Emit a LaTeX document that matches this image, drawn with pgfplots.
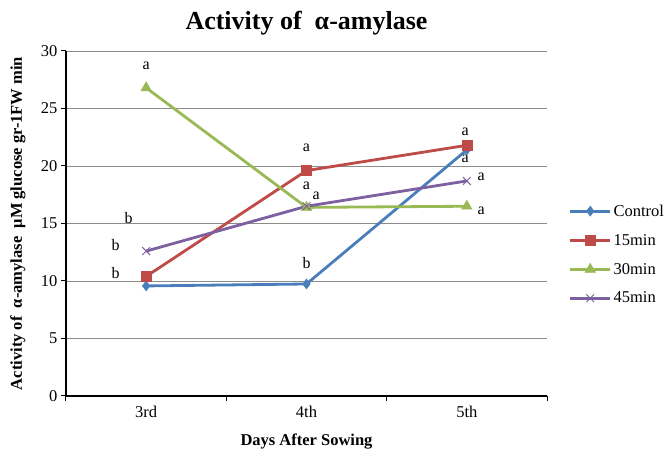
\documentclass[border=0pt]{standalone}
\usepackage{fontspec}
\setmainfont{Liberation Serif}
\usepackage{pgfplots}
\pgfplotsset{compat=1.18}
\definecolor{cCtrl}{HTML}{4A7EBB}
\definecolor{cF}{HTML}{BE4B48}
\definecolor{cT}{HTML}{98B954}
\definecolor{cFF}{HTML}{7D60A0}
\definecolor{gridc}{HTML}{8C8C8C}
\begin{document}
\begin{tikzpicture}
\useasboundingbox (-66pt,-57pt) rectangle (599pt,396pt);
\begin{axis}[
  at={(0pt,0pt)}, anchor=south west,
  scale only axis, width=481pt, height=345pt,
  xmin=-0.5, xmax=2.5, ymin=0, ymax=30,
  ytick={0,5,...,30},
  xtick={-0.5,0.5,1.5,2.5}, xticklabels={},
  extra x ticks={0,1,2}, extra x tick labels={3rd,4th,5th},
  extra x tick style={major tick length=0pt, xticklabel shift=7pt},
  axis x line*=bottom, axis y line*=left,
  axis line style={black, line width=1.3pt, -},
  tick align=outside, major tick length=5pt,
  tick style={black, line width=1pt},
  ymajorgrids, grid style={gridc, line width=0.8pt},
  /pgf/number format/assume math mode=true,
  tick label style={font=\fontsize{16.5}{19}\selectfont},
  xlabel={\textbf{Days After Sowing}},
  xlabel style={font=\fontsize{16.5}{19}\selectfont, at={(axis description cs:0.5,-0.133)}, anchor=center},
  ylabel={\textbf{Activity of~~α-amylase~~μM glucose gr-1FW min}},
  ylabel style={font=\fontsize{16.5}{19}\selectfont, at={(axis description cs:-0.0998,0.5)}, anchor=center},
  title={\textbf{Activity of~~α-amylase}},
  title style={font=\fontsize{26}{30}\selectfont, at={(axis description cs:0.5,1.064)}, anchor=center},
  legend style={at={(1.045,0.41)}, anchor=west, draw=none, fill=none,
    font=\fontsize{16.5}{19}\selectfont, row sep=12.5pt, inner xsep=0pt},
  legend cell align=left,
  legend image code/.code={\draw[mark repeat=2,mark phase=2] plot coordinates {(0pt,0pt)(20pt,0pt)(40pt,0pt)};},
  every axis plot/.append style={line width=2.8pt},
  clip=false,
]
\addplot[cCtrl, mark=diamond*, mark size=5pt, mark options={solid, line width=0.5pt, fill=cCtrl}] coordinates {(0,9.57) (1,9.74) (2,21.4)};
\addlegendentry{Control}
\addplot[cF, mark=square*, mark size=5pt, mark options={solid, line width=0.5pt, fill=cF}] coordinates {(0,10.4) (1,19.6) (2,21.8)};
\addlegendentry{15min}
\addplot[cT, mark=triangle*, mark size=6pt, mark options={solid, line width=0.5pt, fill=cT}] coordinates {(0,26.8) (1,16.4) (2,16.5)};
\addlegendentry{30min}
\addplot[cFF, mark=x, mark size=5.5pt, mark options={solid, line width=1pt}] coordinates {(0,12.6) (1,16.5) (2,18.7)};
\addlegendentry{45min}
\begin{scope}[every node/.style={font=\fontsize{16}{18}\selectfont, inner sep=0pt}]
\node at (axis cs:0,28.7) {a};
\node at (axis cs:-0.11,15.5) {b};
\node at (axis cs:-0.19,13.1) {b};
\node at (axis cs:-0.19,10.7) {b};
\node at (axis cs:1,21.6) {a};
\node at (axis cs:1,18.3) {a};
\node at (axis cs:1.06,17.4) {a};
\node at (axis cs:1,11.6) {b};
\node at (axis cs:1.99,23.0) {a};
\node at (axis cs:1.99,20.6) {a};
\node at (axis cs:2.09,19.1) {a};
\node at (axis cs:2.09,16.1) {a};
\end{scope}
\end{axis}
\end{tikzpicture}
\end{document}
